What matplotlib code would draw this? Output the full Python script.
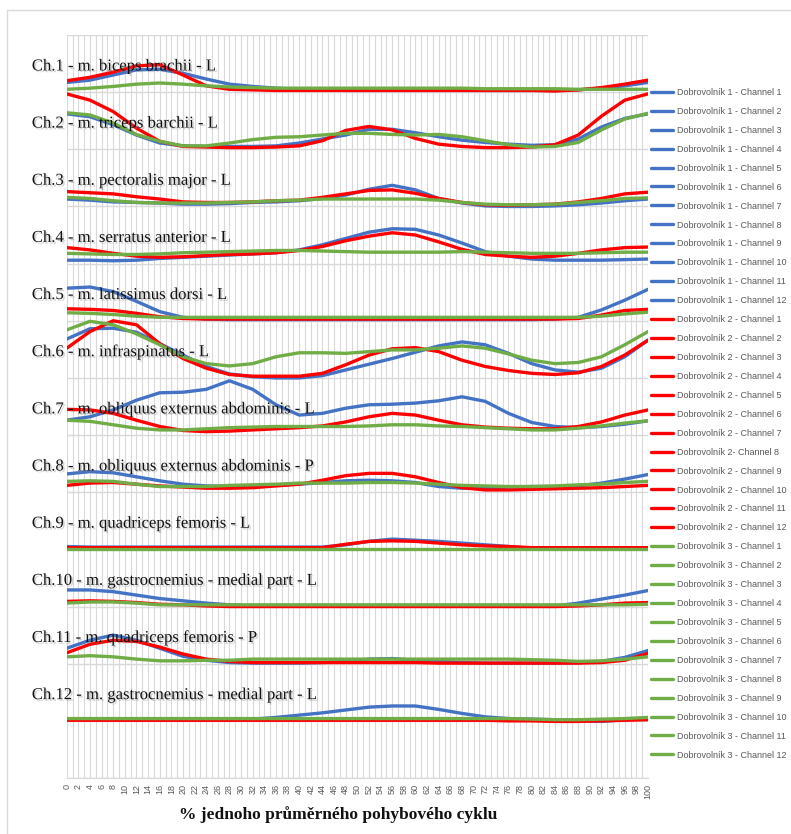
import matplotlib.pyplot as plt
import matplotlib.patheffects as pe
from matplotlib.patches import Rectangle

# % of one averaged movement cycle, sampled every 4 %
cycle = list(range(0, 101, 4))

channels = [
    "Ch.1 - m. biceps brachii - L",
    "Ch.2 - m. triceps barchii - L",
    "Ch.3 - m. pectoralis major - L",
    "Ch.4 - m. serratus anterior - L",
    "Ch.5 - m. latissimus dorsi - L",
    "Ch.6 - m. infraspinatus - L",
    "Ch.7 - m. obliquus externus abdominis - L",
    "Ch.8 - m. obliquus externus abdominis - P",
    "Ch.9 - m. quadriceps femoris - L",
    "Ch.10 - m. gastrocnemius - medial part - L",
    "Ch.11 - m. quadriceps femoris - P",
    "Ch.12 - m. gastrocnemius - medial part - L",
]

# normalised EMG envelope per channel (one row per channel)
dobrovolnik_1 = [
    [0.17, 0.21, 0.30, 0.39, 0.40, 0.33, 0.23, 0.14, 0.10, 0.07, 0.05, 0.04, 0.03, 0.03, 0.03, 0.03, 0.03, 0.03, 0.03, 0.03, 0.03, 0.03, 0.04, 0.07, 0.11, 0.17],
    [0.62, 0.57, 0.43, 0.25, 0.11, 0.06, 0.05, 0.05, 0.05, 0.06, 0.11, 0.18, 0.25, 0.35, 0.35, 0.29, 0.22, 0.16, 0.12, 0.09, 0.07, 0.08, 0.18, 0.39, 0.54, 0.62],
    [0.13, 0.11, 0.08, 0.07, 0.06, 0.04, 0.04, 0.05, 0.07, 0.08, 0.10, 0.14, 0.20, 0.30, 0.37, 0.29, 0.14, 0.06, 0.01, 0.00, 0.00, 0.01, 0.03, 0.06, 0.10, 0.13],
    [0.06, 0.06, 0.05, 0.06, 0.09, 0.11, 0.13, 0.15, 0.17, 0.19, 0.24, 0.33, 0.44, 0.55, 0.61, 0.60, 0.50, 0.36, 0.21, 0.13, 0.08, 0.06, 0.06, 0.06, 0.07, 0.08],
    [0.57, 0.59, 0.51, 0.34, 0.16, 0.06, 0.03, 0.02, 0.02, 0.02, 0.02, 0.02, 0.02, 0.02, 0.02, 0.02, 0.02, 0.02, 0.02, 0.02, 0.02, 0.03, 0.06, 0.19, 0.36, 0.55],
    [0.68, 0.86, 0.87, 0.80, 0.60, 0.40, 0.20, 0.07, 0.02, 0.00, 0.00, 0.04, 0.14, 0.24, 0.34, 0.45, 0.56, 0.63, 0.58, 0.43, 0.25, 0.14, 0.10, 0.17, 0.37, 0.66],
    [0.26, 0.32, 0.44, 0.61, 0.74, 0.75, 0.80, 0.95, 0.80, 0.53, 0.35, 0.38, 0.47, 0.53, 0.54, 0.56, 0.60, 0.67, 0.59, 0.38, 0.22, 0.15, 0.13, 0.15, 0.19, 0.25],
    [0.32, 0.36, 0.34, 0.27, 0.20, 0.14, 0.11, 0.10, 0.11, 0.13, 0.14, 0.17, 0.20, 0.21, 0.20, 0.17, 0.10, 0.07, 0.07, 0.09, 0.10, 0.10, 0.11, 0.16, 0.23, 0.31],
    [0.05, 0.04, 0.04, 0.04, 0.04, 0.04, 0.04, 0.04, 0.04, 0.04, 0.04, 0.04, 0.08, 0.14, 0.18, 0.16, 0.14, 0.11, 0.08, 0.05, 0.02, 0.02, 0.02, 0.02, 0.02, 0.02],
    [0.29, 0.29, 0.26, 0.20, 0.14, 0.10, 0.06, 0.03, 0.01, 0.01, 0.01, 0.01, 0.01, 0.01, 0.01, 0.01, 0.01, 0.01, 0.01, 0.01, 0.01, 0.01, 0.06, 0.13, 0.20, 0.28],
    [0.27, 0.41, 0.50, 0.41, 0.27, 0.13, 0.06, 0.02, 0.01, 0.01, 0.01, 0.02, 0.04, 0.08, 0.09, 0.06, 0.04, 0.02, 0.01, 0.01, 0.01, 0.01, 0.02, 0.04, 0.11, 0.23],
    [0.03, 0.03, 0.03, 0.02, 0.02, 0.02, 0.02, 0.02, 0.03, 0.06, 0.10, 0.14, 0.19, 0.24, 0.26, 0.26, 0.20, 0.13, 0.07, 0.04, 0.03, 0.02, 0.00, -0.01, 0.02, 0.04],
]

dobrovolnik_2 = [
    [0.20, 0.26, 0.35, 0.46, 0.48, 0.30, 0.11, 0.05, 0.04, 0.03, 0.03, 0.03, 0.03, 0.03, 0.03, 0.03, 0.03, 0.03, 0.03, 0.03, 0.03, 0.02, 0.04, 0.08, 0.14, 0.21],
    [0.97, 0.86, 0.66, 0.37, 0.14, 0.05, 0.04, 0.03, 0.03, 0.04, 0.06, 0.15, 0.33, 0.40, 0.34, 0.19, 0.09, 0.05, 0.03, 0.03, 0.04, 0.08, 0.25, 0.58, 0.86, 0.97],
    [0.26, 0.24, 0.22, 0.17, 0.13, 0.08, 0.07, 0.07, 0.08, 0.10, 0.11, 0.16, 0.22, 0.28, 0.29, 0.23, 0.14, 0.07, 0.03, 0.02, 0.03, 0.04, 0.08, 0.14, 0.22, 0.25],
    [0.28, 0.24, 0.18, 0.13, 0.11, 0.12, 0.14, 0.16, 0.17, 0.19, 0.23, 0.30, 0.40, 0.48, 0.54, 0.50, 0.38, 0.25, 0.16, 0.13, 0.11, 0.13, 0.18, 0.24, 0.28, 0.29],
    [0.21, 0.20, 0.18, 0.13, 0.07, 0.04, 0.03, 0.03, 0.03, 0.03, 0.03, 0.03, 0.03, 0.03, 0.03, 0.03, 0.03, 0.03, 0.03, 0.03, 0.03, 0.03, 0.04, 0.10, 0.18, 0.20],
    [0.52, 0.81, 1.00, 0.93, 0.60, 0.34, 0.17, 0.06, 0.03, 0.03, 0.03, 0.08, 0.23, 0.40, 0.51, 0.53, 0.46, 0.31, 0.20, 0.13, 0.08, 0.06, 0.09, 0.20, 0.40, 0.66],
    [0.45, 0.44, 0.38, 0.26, 0.15, 0.08, 0.06, 0.07, 0.09, 0.11, 0.13, 0.16, 0.23, 0.32, 0.38, 0.35, 0.26, 0.18, 0.14, 0.12, 0.11, 0.11, 0.15, 0.23, 0.35, 0.44],
    [0.12, 0.16, 0.17, 0.14, 0.11, 0.09, 0.07, 0.07, 0.08, 0.11, 0.14, 0.21, 0.29, 0.33, 0.33, 0.27, 0.17, 0.08, 0.04, 0.04, 0.05, 0.06, 0.07, 0.08, 0.10, 0.12],
    [0.03, 0.03, 0.03, 0.03, 0.03, 0.03, 0.03, 0.03, 0.03, 0.03, 0.03, 0.03, 0.09, 0.14, 0.15, 0.14, 0.11, 0.08, 0.06, 0.05, 0.03, 0.03, 0.03, 0.03, 0.03, 0.03],
    [0.09, 0.10, 0.09, 0.07, 0.04, 0.03, 0.01, 0.00, 0.00, 0.00, 0.00, 0.00, 0.00, 0.00, 0.00, 0.00, 0.00, 0.00, 0.00, 0.00, 0.00, 0.00, 0.01, 0.03, 0.06, 0.07],
    [0.19, 0.34, 0.41, 0.39, 0.29, 0.17, 0.08, 0.04, 0.02, 0.02, 0.02, 0.02, 0.02, 0.02, 0.02, 0.02, 0.01, 0.01, 0.01, 0.01, 0.01, 0.01, 0.01, 0.02, 0.06, 0.18],
    [0.01, 0.01, 0.01, 0.01, 0.01, 0.01, 0.01, 0.01, 0.01, 0.01, 0.01, 0.01, 0.01, 0.01, 0.01, 0.01, 0.01, 0.01, 0.01, 0.00, 0.00, -0.01, -0.01, 0.00, 0.01, 0.02],
]

dobrovolnik_3 = [
    [0.05, 0.07, 0.10, 0.14, 0.16, 0.14, 0.11, 0.09, 0.08, 0.07, 0.07, 0.07, 0.07, 0.07, 0.07, 0.07, 0.07, 0.07, 0.06, 0.06, 0.06, 0.06, 0.05, 0.05, 0.05, 0.05],
    [0.64, 0.60, 0.46, 0.26, 0.14, 0.06, 0.06, 0.11, 0.17, 0.21, 0.22, 0.25, 0.28, 0.28, 0.26, 0.25, 0.26, 0.22, 0.15, 0.08, 0.04, 0.05, 0.12, 0.34, 0.53, 0.63],
    [0.16, 0.14, 0.10, 0.07, 0.06, 0.06, 0.06, 0.07, 0.08, 0.10, 0.11, 0.13, 0.13, 0.13, 0.13, 0.13, 0.11, 0.07, 0.04, 0.03, 0.03, 0.04, 0.07, 0.10, 0.14, 0.15],
    [0.18, 0.17, 0.16, 0.16, 0.17, 0.19, 0.20, 0.21, 0.22, 0.23, 0.23, 0.22, 0.21, 0.20, 0.20, 0.20, 0.20, 0.21, 0.20, 0.19, 0.18, 0.18, 0.18, 0.19, 0.20, 0.20],
    [0.14, 0.13, 0.11, 0.08, 0.06, 0.06, 0.06, 0.06, 0.06, 0.06, 0.06, 0.06, 0.06, 0.06, 0.06, 0.06, 0.06, 0.06, 0.06, 0.06, 0.06, 0.06, 0.06, 0.08, 0.12, 0.15],
    [0.84, 0.99, 0.93, 0.77, 0.58, 0.37, 0.25, 0.21, 0.25, 0.37, 0.44, 0.44, 0.43, 0.46, 0.49, 0.49, 0.52, 0.56, 0.52, 0.42, 0.31, 0.25, 0.27, 0.37, 0.58, 0.81],
    [0.26, 0.24, 0.18, 0.12, 0.09, 0.09, 0.11, 0.13, 0.14, 0.15, 0.15, 0.15, 0.15, 0.16, 0.18, 0.18, 0.16, 0.15, 0.13, 0.11, 0.09, 0.09, 0.12, 0.16, 0.21, 0.25],
    [0.19, 0.20, 0.19, 0.14, 0.10, 0.10, 0.10, 0.12, 0.13, 0.14, 0.16, 0.16, 0.16, 0.17, 0.17, 0.16, 0.14, 0.12, 0.11, 0.10, 0.10, 0.11, 0.13, 0.14, 0.17, 0.19],
    [0.01, 0.01, 0.01, 0.01, 0.01, 0.01, 0.01, 0.01, 0.01, 0.01, 0.01, 0.01, 0.01, 0.01, 0.01, 0.01, 0.01, 0.01, 0.01, 0.01, 0.01, 0.01, 0.01, 0.01, 0.01, 0.01],
    [0.06, 0.08, 0.08, 0.06, 0.03, 0.03, 0.03, 0.03, 0.03, 0.03, 0.03, 0.03, 0.03, 0.03, 0.03, 0.03, 0.03, 0.03, 0.03, 0.03, 0.03, 0.03, 0.03, 0.03, 0.03, 0.04],
    [0.12, 0.14, 0.12, 0.08, 0.05, 0.05, 0.06, 0.06, 0.08, 0.08, 0.08, 0.08, 0.08, 0.08, 0.08, 0.08, 0.08, 0.08, 0.08, 0.08, 0.07, 0.06, 0.04, 0.05, 0.08, 0.12],
    [0.04, 0.04, 0.04, 0.04, 0.04, 0.04, 0.04, 0.04, 0.04, 0.04, 0.04, 0.04, 0.04, 0.04, 0.04, 0.04, 0.04, 0.04, 0.04, 0.04, 0.03, 0.02, 0.02, 0.03, 0.04, 0.06],
]

volunteers = [dobrovolnik_1, dobrovolnik_2, dobrovolnik_3]
colors = ['#4472C4', '#FF0000', '#70AD47']

fig = plt.figure(figsize=(7.91, 8.34), dpi=100)
ax = fig.add_axes([66.7 / 791, 1 - 778 / 834, (648 - 66.7) / 791, (778 - 35) / 834])

n = len(channels)
handles, labels = [], []
for v, (data, color) in enumerate(zip(volunteers, colors), start=1):
    for i, row in enumerate(data):
        # each channel gets its own band, Ch.1 at the top
        offset = n - i
        y = [val + offset for val in row]
        line, = ax.plot(cycle, y, color=color, lw=2.4,
                        solid_joinstyle='round', solid_capstyle='round', zorder=2 + v)
        handles.append(line)
        sep = '- ' if (v == 2 and i == 7) else ' - '
        labels.append(f'Dobrovolník {v}{sep}Channel {i + 1}')

for i, name in enumerate(channels):
    ax.text(-6.0, n - i + 0.45, name, ha='left', va='center', fontsize=12,
            family='Liberation Serif', color='#111111', clip_on=False, zorder=10,
            path_effects=[pe.withSimplePatchShadow(offset=(1.2, -1.2),
                                                   shadow_rgbFace='#7f7f7f', alpha=0.35)])

ax.set_xlim(0, 100)
ax.set_ylim(0, n + 1)
ax.set_xticks(range(0, 101, 2))
ax.set_xticks(range(0, 101), minor=True)
ax.set_yticks(range(0, n + 2))
ax.grid(which='both', axis='x', color='#d9d9d9', lw=0.8, zorder=0)
ax.grid(which='major', axis='y', color='#d9d9d9', lw=1.0, zorder=0)
ax.set_axisbelow(True)
ax.tick_params(axis='y', left=False, labelleft=False)
ax.tick_params(axis='x', which='both', length=0, pad=4, labelsize=6.5,
               labelcolor='#595959', labelrotation=90)
for lab in ax.get_xticklabels():
    lab.set_family('Liberation Sans')
for side in ['top', 'left', 'right']:
    ax.spines[side].set_visible(False)
ax.spines['bottom'].set_color('#d9d9d9')

fig.text(338 / 791, 1 - 815 / 834, '% jednoho průměrného pohybového cyklu',
         ha='center', va='center', fontsize=12.5, fontweight='bold',
         family='Liberation Serif', color='#111111')

fig.legend(handles, labels, loc='upper left', bbox_to_anchor=(651 / 791, 1 - 88 / 834),
           frameon=False, prop={'family': 'Liberation Sans', 'size': 6.5},
           labelcolor='#595959', handlelength=2.4, handletextpad=0.45,
           labelspacing=1.10, borderpad=0, borderaxespad=0)

# light chart-area border
fig.patches.append(Rectangle((7 / 791, -0.05), 1.2, 1 - 10 / 834 + 0.05,
                             transform=fig.transFigure, fill=False,
                             ec='#d9d9d9', lw=1.0))

fig.savefig('out.png', dpi=100)
